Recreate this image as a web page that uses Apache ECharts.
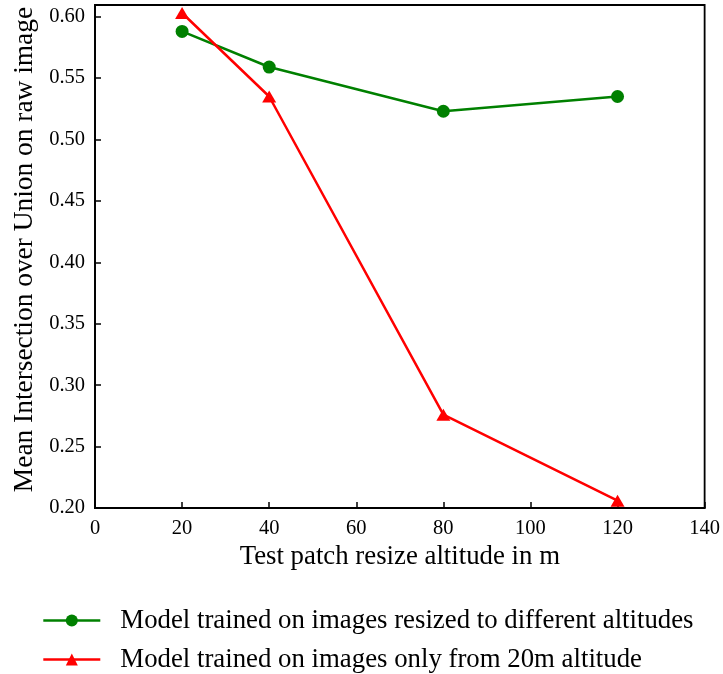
<!DOCTYPE html>
<html>
<head>
<meta charset="utf-8">
<script src="https://cdn.jsdelivr.net/npm/echarts@6/dist/echarts.min.js"></script>
<style>
  html, body { margin: 0; padding: 0; background: #fff; }
  #chart { width: 723px; height: 674px; }
</style>
</head>
<body>
<div id="chart"></div>
<script>
// Test patch resize altitudes (m)
const altitudes = [20, 40, 80, 120];
// Mean IoU on raw image for each training setup
const miouResized = [0.588, 0.559, 0.523, 0.535];
const miou20m = [0.603, 0.535, 0.276, 0.206];
const seriesNames = [
  'Model trained on images resized to different altitudes',
  'Model trained on images only from 20m altitude'
];

const font = 'Liberation Serif, Times New Roman, serif';
const chart = echarts.init(document.getElementById('chart'));

const pairs = (xs, ys) => xs.map((x, i) => [x, ys[i]]);

// one legend block per row, stacked under the plot
const legendRow = (name, top) => ({
  orient: 'vertical', left: 42, top: top, padding: 0,
  itemWidth: 57, itemHeight: 15, itemGap: 0,
  lineStyle: { width: 2.6 },
  textStyle: { fontFamily: font, fontSize: 26.8, color: '#000', padding: [0, 0, 0, 15] },
  data: [name]
});

chart.setOption({
  animation: false,
  backgroundColor: '#fff',
  grid: {
    left: 95, right: 18, top: 5, bottom: 166,
    show: true, borderColor: '#000', borderWidth: 1.8, backgroundColor: 'transparent'
  },
  xAxis: {
    type: 'value', min: 0, max: 140, interval: 20,
    name: 'Test patch resize altitude in m',
    nameLocation: 'middle', nameGap: 35,
    nameTextStyle: { fontFamily: font, fontSize: 26.8, color: '#000' },
    axisLine: { show: true, onZero: false, lineStyle: { color: '#000', width: 1.8 } },
    axisTick: { show: true, inside: true, length: 6, lineStyle: { color: '#000', width: 1.5 } },
    axisLabel: { fontFamily: font, fontSize: 20.5, color: '#000', margin: 10 },
    splitLine: { show: false }
  },
  yAxis: {
    type: 'value', min: 0.2, max: 0.6095, interval: 0.05,
    name: 'Mean Intersection over Union on raw image',
    nameLocation: 'middle', nameGap: 57,
    nameTextStyle: { fontFamily: font, fontSize: 27.4, color: '#000', padding: [0, 0, 0, 14] },
    axisLine: { show: true, lineStyle: { color: '#000', width: 1.8 } },
    axisTick: { show: true, inside: true, length: 6, lineStyle: { color: '#000', width: 1.5 } },
    axisLabel: {
      fontFamily: font, fontSize: 20.5, color: '#000', margin: 10, showMaxLabel: false,
      formatter: v => v.toFixed(2)
    },
    splitLine: { show: false }
  },
  legend: [legendRow(seriesNames[0], 607), legendRow(seriesNames[1], 646)],
  series: [
    {
      name: seriesNames[0], type: 'line',
      data: pairs(altitudes, miouResized),
      symbol: 'circle', symbolSize: 13,
      lineStyle: { color: '#008000', width: 2.5 },
      itemStyle: { color: '#008000' }
    },
    {
      name: seriesNames[1], type: 'line',
      data: pairs(altitudes, miou20m),
      symbol: 'triangle', symbolSize: [14, 12],
      lineStyle: { color: '#ff0000', width: 2.5 },
      itemStyle: { color: '#ff0000' }
    }
  ]
});
</script>
</body>
</html>
